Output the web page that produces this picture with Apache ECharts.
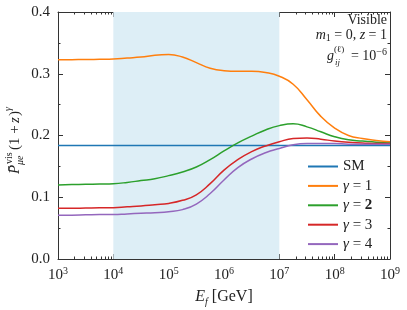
<!DOCTYPE html>
<html><head><meta charset="utf-8">
<script src="https://cdn.jsdelivr.net/npm/echarts@6/dist/echarts.min.js"></script>
<style>html,body{margin:0;padding:0;background:#fff}#c{width:407px;height:310px}</style>
</head><body><div id="c"></div>
<script>
// x values are log10(E_f / GeV)
const logE = [3, 3.25, 3.5, 3.75, 4, 4.25, 4.5, 4.75, 5, 5.25, 5.5, 5.75, 6, 6.25, 6.5, 6.75, 7, 7.25, 7.5, 7.75, 8, 8.25, 8.5, 8.75, 9];
const smE = [3, 9];
const smVals = [0.184, 0.184];
const gamma1 = [0.3225, 0.3228, 0.323, 0.3235, 0.324, 0.3255, 0.327, 0.330, 0.331, 0.327, 0.318, 0.309, 0.305, 0.304, 0.304, 0.302, 0.296, 0.283, 0.258, 0.231, 0.212, 0.200, 0.195, 0.192, 0.190];
const gamma2 = [0.120, 0.1205, 0.121, 0.1215, 0.122, 0.124, 0.127, 0.130, 0.135, 0.141, 0.149, 0.161, 0.175, 0.188, 0.199, 0.209, 0.216, 0.219, 0.214, 0.206, 0.198, 0.193, 0.191, 0.189, 0.188];
const gamma3 = [0.082, 0.082, 0.0825, 0.083, 0.083, 0.0845, 0.086, 0.088, 0.090, 0.095, 0.104, 0.122, 0.144, 0.161, 0.174, 0.183, 0.190, 0.195, 0.196, 0.194, 0.191, 0.189, 0.188, 0.187, 0.187];
const gamma4 = [0.071, 0.071, 0.0715, 0.072, 0.072, 0.073, 0.074, 0.075, 0.0765, 0.080, 0.089, 0.106, 0.128, 0.148, 0.162, 0.172, 0.179, 0.185, 0.187, 0.187, 0.187, 0.186, 0.186, 0.186, 0.186];
const xTickExps = [3, 4, 5, 6, 7, 8, 9];
const yTicks = [0, 0.1, 0.2, 0.3, 0.4];
const band = [4, 7];
const seriesNames = ['SM', 'γ = 1', 'γ = 2', 'γ = 3', 'γ = 4'];
const colors = ['#1f77b4', '#ff7f0e', '#2ca02c', '#d62728', '#9467bd'];

const FONT = 'Liberation Serif';
const TXT = '#222';
const minorX = [];
for (let n = xTickExps[0]; n < xTickExps[xTickExps.length - 1]; n++) {
  for (let k = 2; k <= 9; k++) minorX.push(n + Math.log10(k));
}
const pairs = (xs, ys) => xs.map((x, i) => [x, ys[i]]);
const axisCol = '#333';
const baseX = {
  type: 'value', min: xTickExps[0], max: xTickExps[xTickExps.length - 1], interval: 1,
  splitLine: { show: false },
  axisLine: { show: true, lineStyle: { color: axisCol, width: 1 } },
};
const richNum = {
  b: { fontFamily: FONT, fontSize: 15, color: TXT, lineHeight: 18 },
  s: { fontFamily: FONT, fontSize: 10, color: TXT, lineHeight: 18, verticalAlign: 'top' }
};
const xAxes = [
  Object.assign({}, baseX, {
    position: 'bottom',
    axisTick: { inside: true, length: 5, lineStyle: { color: axisCol } },
    axisLabel: { margin: 7, formatter: v => '{b|10}{s|' + v + '}', rich: richNum }
  }),
  Object.assign({}, baseX, {
    position: 'bottom', axisLine: { show: false },
    axisTick: { inside: true, length: 2.5, customValues: minorX, lineStyle: { color: axisCol } },
    axisLabel: { show: false }
  }),
  Object.assign({}, baseX, {
    position: 'top',
    axisTick: { inside: true, length: 5, lineStyle: { color: axisCol } },
    axisLabel: { show: false }
  }),
  Object.assign({}, baseX, {
    position: 'top', axisLine: { show: false },
    axisTick: { inside: true, length: 2.5, customValues: minorX, lineStyle: { color: axisCol } },
    axisLabel: { show: false }
  })
];
const baseY = {
  type: 'value', min: yTicks[0], max: yTicks[yTicks.length - 1], interval: 0.1,
  splitLine: { show: false }, minorSplitLine: { show: false },
  axisLine: { show: true, lineStyle: { color: axisCol, width: 1 } },
  axisTick: { inside: true, length: 5, lineStyle: { color: axisCol } },
  minorTick: { show: true, splitNumber: 2, length: 2.5, lineStyle: { color: axisCol } }
};
const yAxes = [
  Object.assign({}, baseY, {
    position: 'left',
    axisLabel: { margin: 8, fontFamily: FONT, fontSize: 15, color: TXT, formatter: v => v.toFixed(1) }
  }),
  Object.assign({}, baseY, { position: 'right', axisLabel: { show: false } })
];

const lineSeries = (name, data, color) => ({
  name, type: 'line', data, xAxisIndex: 0, yAxisIndex: 0, symbol: 'none', smooth: 0.5,
  lineStyle: { color, width: 1.5 }, itemStyle: { color }, z: 3, silent: true
});

const chart = echarts.init(document.getElementById('c'), null, { renderer: 'canvas' });
chart.setOption({
  animation: false,
  backgroundColor: '#fff',
  grid: { left: 58, right: 17, top: 12, bottom: 51, containLabel: false, outerBoundsMode: 'none' },
  xAxis: xAxes,
  yAxis: yAxes,
  legend: {
    data: seriesNames, orient: 'vertical', left: 303, top: 153,
    icon: 'rect', itemWidth: 30, itemHeight: 2, itemGap: 2.4,
    textStyle: {
      fontFamily: FONT, fontSize: 15, color: TXT, lineHeight: 17,
      rich: {
        g: { fontFamily: FONT, fontStyle: 'italic', fontSize: 15, color: TXT, lineHeight: 17 },
        n: { fontFamily: FONT, fontSize: 15, color: TXT, lineHeight: 17 },
        bb: { fontFamily: FONT, fontWeight: 'bold', fontSize: 15, color: TXT, lineHeight: 17 }
      }
    },
    formatter: name => {
      if (name === 'SM') return '{n|SM}';
      const num = name.split('= ')[1];
      return '{g|γ}{n| = }' + (num === '2' ? '{bb|' + num + '}' : '{n|' + num + '}');
    }
  },
  series: [
    {
      type: 'line', data: [], xAxisIndex: 0, yAxisIndex: 0, z: 1, silent: true,
      markArea: { silent: true, itemStyle: { color: '#ddeef6' }, data: [[{ xAxis: band[0] }, { xAxis: band[1] }]] }
    },
    lineSeries(seriesNames[0], pairs(smE, smVals), colors[0]),
    lineSeries(seriesNames[1], pairs(logE, gamma1), colors[1]),
    lineSeries(seriesNames[2], pairs(logE, gamma2), colors[2]),
    lineSeries(seriesNames[3], pairs(logE, gamma3), colors[3]),
    lineSeries(seriesNames[4], pairs(logE, gamma4), colors[4])
  ],
  graphic: [
    // x-axis title
    {
      type: 'text', x: 224, y: 297, silent: true,
      style: {
        text: '{i|E}{sub|f}{n| [GeV]}', x: 0, y: 0, align: 'center', verticalAlign: 'middle',
        rich: {
          i: { fontFamily: FONT, fontStyle: 'italic', fontSize: 16, fill: TXT, lineHeight: 20 },
          sub: { fontFamily: FONT, fontStyle: 'italic', fontSize: 10, fill: TXT, lineHeight: 20, verticalAlign: 'bottom' },
          n: { fontFamily: FONT, fontSize: 16, fill: TXT, lineHeight: 20 }
        }
      }
    },
    // y-axis title (rotated group)
    {
      type: 'group', x: 15, y: 138, rotation: Math.PI / 2, silent: true,
      children: [
        { type: 'text', style: { text: 'P\u0304', x: -36, y: 0, align: 'left', verticalAlign: 'middle', fontFamily: FONT, fontStyle: 'italic', fontSize: 15, fill: TXT } },
        { type: 'text', style: { text: 'vis', x: -26, y: -6, align: 'left', verticalAlign: 'middle', fontFamily: FONT, fontSize: 10, fill: TXT } },
        { type: 'text', style: { text: 'μe', x: -27, y: 5, align: 'left', verticalAlign: 'middle', fontFamily: FONT, fontStyle: 'italic', fontSize: 10, fill: TXT } },
        { type: 'text', style: { text: '(1 + ', x: -12, y: 0, align: 'left', verticalAlign: 'middle', fontFamily: FONT, fontSize: 15, fill: TXT } },
        { type: 'text', style: { text: 'z', x: 15, y: 0, align: 'left', verticalAlign: 'middle', fontFamily: FONT, fontStyle: 'italic', fontSize: 15, fill: TXT } },
        { type: 'text', style: { text: ')', x: 22, y: 0, align: 'left', verticalAlign: 'middle', fontFamily: FONT, fontSize: 15, fill: TXT } },
        { type: 'text', style: { text: 'γ', x: 27, y: -7, align: 'left', verticalAlign: 'middle', fontFamily: FONT, fontStyle: 'italic', fontSize: 10, fill: TXT } }
      ]
    },
    // annotations top-right
    {
      type: 'text', silent: true,
      style: { text: 'Visible', x: 387, y: 20, align: 'right', verticalAlign: 'middle', fontFamily: FONT, fontSize: 14, fill: TXT }
    },
    {
      type: 'text', silent: true,
      style: {
        text: '{i|m}{sub|1}{n| = 0, }{i|z}{n| = 1}', x: 387, y: 35, align: 'right', verticalAlign: 'middle',
        rich: {
          i: { fontFamily: FONT, fontStyle: 'italic', fontSize: 14, fill: TXT, lineHeight: 17 },
          sub: { fontFamily: FONT, fontSize: 10, fill: TXT, lineHeight: 17, verticalAlign: 'bottom' },
          n: { fontFamily: FONT, fontSize: 14, fill: TXT, lineHeight: 17 }
        }
      }
    },
    {
      type: 'text', silent: true,
      style: {
        text: '{n|= 10}{sup|−6}', x: 387, y: 56, align: 'right', verticalAlign: 'middle',
        rich: {
          n: { fontFamily: FONT, fontSize: 14, fill: TXT, lineHeight: 18 },
          sup: { fontFamily: FONT, fontSize: 10, fill: TXT, lineHeight: 18, verticalAlign: 'top' }
        }
      }
    },
    { type: 'text', silent: true, style: { text: 'g', x: 327, y: 56, align: 'left', verticalAlign: 'middle', fontFamily: FONT, fontStyle: 'italic', fontSize: 14, fill: TXT } },
    { type: 'text', silent: true, style: { text: '(ℓ)', x: 334, y: 50, align: 'left', verticalAlign: 'middle', fontFamily: FONT, fontSize: 9, fill: TXT } },
    { type: 'text', silent: true, style: { text: 'ij', x: 335, y: 63, align: 'left', verticalAlign: 'middle', fontFamily: FONT, fontStyle: 'italic', fontSize: 9, fill: TXT } }
  ]
});
</script>
</body></html>
